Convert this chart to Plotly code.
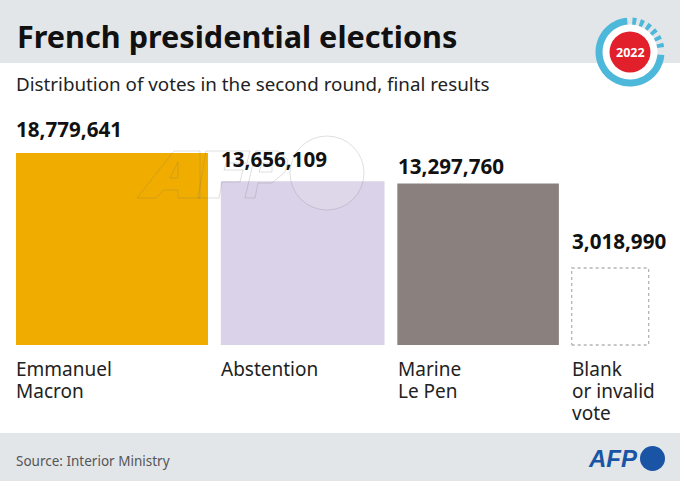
import math
import plotly.graph_objects as go

categories = [["Emmanuel", "Macron"], ["Abstention"], ["Marine", "Le Pen"], ["Blank", "or invalid", "vote"]]
votes = [18779641, 13656109, 13297760, 3018990]
colors = ["#f0ad00", "#dad2e8", "#8a817e", "#ffffff"]

FONT = "Noto Sans"
W, H = 680, 481
left, base = 16, 345
k = 192 / math.sqrt(votes[0])   # px per unit of sqrt(votes)
gap = 12.8 / k

side = [math.sqrt(v) for v in votes]
xs, cur = [], 0
for s in side:
    xs.append(cur + s / 2)
    cur += s + gap

fig = go.Figure()
fig.add_trace(go.Bar(x=xs, y=side, width=side, marker=dict(color=colors, line=dict(width=0)),
                     hoverinfo="skip", showlegend=False))
# dashed outline of the last square
x0, x1, t = xs[3] - side[3] / 2, xs[3] + side[3] / 2, side[3]
fig.add_trace(go.Scatter(x=[x0, x1, x1, x0, x0], y=[0, 0, t, t, 0], mode="lines",
                         line=dict(color="#b5b5b5", width=1.3, dash="3px,3px"),
                         hoverinfo="skip", showlegend=False))

shapes = []
def P(x, y):
    return x / W, 1 - y / H
def rect(x0, y0, x1, y1, color):
    a, b = P(x0, y0), P(x1, y1)
    shapes.append(dict(type="rect", xref="paper", yref="paper", x0=a[0], y0=a[1], x1=b[0], y1=b[1],
                       fillcolor=color, line=dict(width=0), layer="below"))
def circle(cx, cy, r, fill, line=None, lw=0, layer="above"):
    a, b = P(cx - r, cy - r), P(cx + r, cy + r)
    shapes.append(dict(type="circle", xref="paper", yref="paper", x0=a[0], y0=a[1], x1=b[0], y1=b[1],
                       fillcolor=fill, line=dict(width=lw, color=line or "rgba(0,0,0,0)"), layer=layer))
def path(pts, fill=None, line=None, lw=0, close=True, layer="above"):
    d = "M " + " L ".join(f"{x / W:.5f},{1 - y / H:.5f}" for x, y in pts) + (" Z" if close else "")
    shapes.append(dict(type="path", xref="paper", yref="paper", path=d,
                       fillcolor=fill or "rgba(0,0,0,0)",
                       line=dict(width=lw, color=line or "rgba(0,0,0,0)"), layer=layer))

rect(0, 0, W, 63, "#e3e6e9")
rect(0, 433, W, H, "#e3e6e9")

# 2022 badge
cx, cy, R = 630, 52, 30
def arc(a0, a1, r0, r1, n=60):
    out = []
    for i in range(n + 1):
        a = math.radians(a0 + (a1 - a0) * i / n)
        out.append((cx + r1 * math.sin(a), cy - r1 * math.cos(a)))
    for i in range(n, -1, -1):
        a = math.radians(a0 + (a1 - a0) * i / n)
        out.append((cx + r0 * math.sin(a), cy - r0 * math.cos(a)))
    return out
circle(cx, cy, 27.5, "#ffffff")
path(arc(95, 355, 27.5, 34.5), fill="#4db8da")
for a in (8, 22, 36, 50, 64, 78):
    path(arc(a - 3.6, a + 3.6, 27.5, 34.5, n=4), fill="#4db8da")
circle(cx, cy, 20.5, "#e2202c")

# footer logo disc
circle(652.5, 458.5, 12.5, "#1a55a5")

# faint watermark
wm = "rgba(110,110,110,0.22)"
circle(327, 173, 37, "rgba(255,255,255,0.12)", wm, 1)
path([(137, 198), (174, 151), (200, 151), (200, 198), (178, 198), (178, 190), (164, 190), (156, 198)], line=wm, lw=1)
path([(170, 178), (178, 178), (178, 162)], line=wm, lw=1)
path([(206, 151), (250, 151), (247, 163), (226, 163), (224, 170), (243, 170), (240, 182), (222, 182), (219, 198), (198, 198)], line=wm, lw=1)
path([(245, 198), (256, 151), (278, 151), (288, 160), (285, 172), (272, 183), (258, 183), (255, 198)], line=wm, lw=1)
path([(262, 163), (272, 163), (272, 172), (259, 172)], line=wm, lw=1)

anns = []
def text(x, y, s, size, color="#1a1a1a", weight=400, anchor="left", family=FONT, style="normal", valign="middle"):
    a = P(x, y)
    anns.append(dict(xref="paper", yref="paper", x=a[0], y=a[1], text=s, showarrow=False,
                     xanchor=anchor, yanchor=valign, align="left",
                     font=dict(family=family, size=size, color=color, weight=weight, style=style)))

text(15, 36.5, "French presidential elections", 30.6, "#111111", 700)
text(14, 84, "Distribution of votes in the second round, final results", 18.8, "#222222")
text(14, 461, "Source: Interior Ministry", 13.5, "#555555")
text(630, 52.5, "2022", 12.5, "#ffffff", 700, anchor="center")
text(586, 458, "AFP", 24, "#1a55a5", 700, family="Liberation Sans", style="italic")

val_pos = [(14, 129), (219, 159), (396, 166), (570, 241)]
for v, (x, y) in zip(votes, val_pos):
    text(x, y, f"{v:,}", 20.6, "#111111", 700)
lab_pos = [14, 219, 396, 570]
for lines, x in zip(categories, lab_pos):
    s = "<br>".join(f'<span style="font-size:19px">{ln}</span>' for ln in lines)
    text(x, 354, s, 17, "#222222", valign="top")

fig.update_layout(
    width=W, height=H, margin=dict(l=0, r=0, t=0, b=0, pad=0),
    paper_bgcolor="#ffffff", plot_bgcolor="rgba(0,0,0,0)", barmode="overlay",
    xaxis=dict(range=[-left / k, (W - left) / k], visible=False, fixedrange=True),
    yaxis=dict(range=[-(H - base) / k, base / k], visible=False, fixedrange=True),
    shapes=shapes, annotations=anns,
)
fig.write_html("out.html", config=dict(displayModeBar=False),
               post_script="document.body.style.margin='0';document.body.style.overflow='hidden';")
